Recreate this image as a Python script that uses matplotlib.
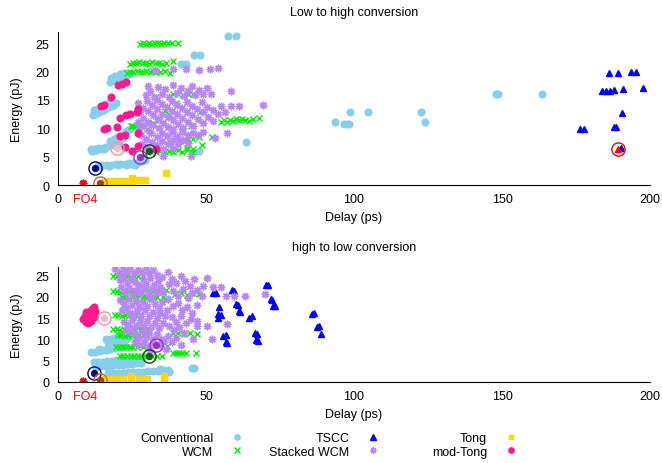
import matplotlib
matplotlib.use("Agg")
import matplotlib.pyplot as plt

plt.rcParams['font.family'] = ['Liberation Sans', 'DejaVu Sans']
plt.rcParams['font.size'] = 9

# ---------------- data: Low to high conversion ----------------
conv_low = [(13.5, 3.4), (15, 3.5), (16.5, 3.5), (18, 3.6), (19.5, 3.7), (21, 3.7), (22.5, 3.8),
            (24, 3.9), (25.5, 3.9), (27, 4.0), (28.5, 4.2), (29.5, 4.4), (26, 3.6), (23, 3.5), (28.5, 4.7),
            (14.2, 3.2), (17.2, 3.4), (20.2, 3.5), (24.6, 3.7), (27.7, 4.4),
            (11, 6.3), (12.3, 6.4), (13.6, 6.5), (15, 6.6), (16.3, 6.8), (17.6, 7.0), (19, 7.1), (20.5, 7.3),
            (11.6, 6.0), (13, 6.2), (14.4, 6.3), (15.7, 6.4), (18.2, 7.3), (19.6, 7.6), (21, 8.0), (22, 8.3),
            (17.5, 7.8), (18.8, 8.1), (20, 8.4), (21.5, 8.7), (22.5, 9.2), (23.5, 9.7), (24.3, 9.9), (23, 9.5),
            (11.8, 12.4), (12.8, 12.6), (13.8, 12.8), (14.8, 13.1), (15.8, 13.4), (16.8, 13.7), (17.8, 14.0),
            (18.8, 14.2), (19.5, 14.4), (12.5, 12.9), (14, 13.4), (12.3, 13.2), (13.3, 13.5), (15.3, 14.0),
            (16.3, 14.3), (17.3, 14.5),
            (17.5, 18.2), (18.5, 18.5), (19.5, 18.8), (20.5, 19.0), (21.5, 19.2), (22.5, 19.4), (23.5, 19.5),
            (24.3, 19.6), (18, 18.9), (19.3, 19.2), (20.8, 19.5), (22.2, 19.8),
            (41.7, 21.3), (43.2, 21.3), (46, 23), (48, 23), (57.3, 26.2), (60, 26.2), (47.8, 6.0), (63.6, 7.6),
            (93.6, 11.2), (96.6, 10.7), (97.6, 10.7), (98.3, 10.7), (98.6, 12.8), (104.7, 12.8), (122.6, 12.8),
            (124, 11.2), (148, 16), (148.6, 16), (163.6, 16)]
tscc_low = [(186.2, 19.7), (189.2, 19.7), (193.6, 20.0), (195.3, 20.0), (197.6, 17.2), (183.8, 16.5),
            (185.2, 16.5), (186.5, 16.5), (187.9, 16.7), (190.9, 16.9), (190.6, 12.7), (176.4, 9.8),
            (177.8, 9.8), (188.0, 10.2), (188.6, 10.2), (190.2, 6.5)]
tong_low = [(16, 0.6), (17.5, 0.7), (19, 0.7), (20.5, 0.7), (22, 0.8), (23.5, 0.8), (24.9, 1.3), (25, 0.7),
            (27.3, 0.9), (28.5, 0.9), (29.5, 0.9), (36.4, 2.1)]
modtong_low = [(20.2, 17.7), (21.5, 17.9), (22.9, 18.1), (17.9, 15.5), (14.5, 13.9), (15.5, 14.2), (21.1, 11.9),
               (22.9, 12.4), (24.2, 12.5), (26.8, 12.9), (26.9, 13.4), (15.4, 9.8), (16.6, 10.0), (19.9, 10.2),
               (21.1, 8.7), (22.5, 8.8), (27.1, 9.1), (22.6, 6.7), (24.9, 6.0), (26.9, 6.9), (33.1, 6.4)]
wcm_low = [(27.8, 24.8), (28.8, 25.0), (29.8, 24.9), (30.8, 25.1), (31.8, 24.9), (32.8, 25.0), (33.8, 25.1),
           (34.8, 24.9), (35.8, 25.0), (37, 25.0), (38.5, 25.0), (40.7, 25.1),
           (24.2, 21.4), (25.3, 21.6), (26.4, 21.5), (27.5, 21.7), (28.6, 21.5), (29.7, 21.6), (30.8, 21.4),
           (31.9, 21.7), (33, 21.5), (34.1, 21.6), (35.2, 21.4), (36.5, 21.6), (38.7, 21.8),
           (23.3, 19.8), (24.4, 20.0), (25.5, 19.9), (26.6, 20.1), (27.7, 19.9), (28.8, 20.0), (29.9, 20.2),
           (31, 19.9), (32.1, 20.1), (33.2, 19.9), (34.5, 20.0), (36, 20.2), (37.7, 19.8),
           (38.7, 16.0), (40.5, 16.1), (42.3, 15.9), (44, 16.0), (45.5, 16.1),
           (55.2, 11.2), (56.2, 11.4), (57.2, 11.2), (58.2, 11.5), (59.2, 11.3), (60.2, 11.6), (61.2, 11.4),
           (62.2, 11.7), (63.3, 11.5), (64.6, 11.3), (66, 11.6), (68, 11.9),
           (24.5, 10.4), (25.5, 10.5), (26.5, 10.4), (27.6, 10.6),
           (38, 7.6), (39.5, 7.8), (41, 7.9), (42.5, 7.7), (44, 8.0), (45.5, 8.1), (47.8, 8.4), (52, 8.4),
           (43.5, 6.6), (45.5, 6.3), (48.5, 7.0),
           (30, 5.9), (31.5, 6.0), (33, 5.8), (34.5, 6.0), (36, 5.9), (37.5, 6.0), (39, 5.8), (40.5, 6.1),
           (42, 5.9), (43.5, 6.2), (45.5, 5.9),
           (30, 9.8), (32, 10.9), (34, 11.4), (36, 13.0), (40, 14.5), (33, 15.5), (37.5, 12.5), (42, 9.5),
           (45, 10.5), (48, 12.8)]
swcm_low = [(29.8, 15.8), (31.2, 16.6), (32.5, 15.6), (33.8, 17.3), (35, 16.0), (36.3, 16.9), (37.5, 15.5),
            (38.8, 17.6), (40.1, 16.3), (41.4, 17.1), (42.6, 15.7), (43.9, 16.6), (45.2, 17.4), (46.4, 15.9),
            (47.7, 16.8), (49, 16.1), (50.3, 17.2), (51.8, 16.0), (58.6, 16.5), (30.5, 17.4),
            (27, 14.5), (27.2, 12.8), (27, 11.2), (27.3, 9.9), (28.6, 13.6), (28.8, 11.9), (29, 10.5),
            (30.1, 14.8), (30.3, 13.0), (30.5, 11.2), (30.6, 9.6), (31.8, 14.1), (32, 12.4), (32.2, 10.6),
            (33.5, 15.0), (33.6, 13.4), (33.8, 11.7), (34, 10.0), (35.2, 14.3), (35.3, 12.6), (35.5, 11.0),
            (36.8, 13.8), (37, 12.0), (37.1, 10.3), (38.5, 14.9), (38.6, 13.1), (38.8, 11.4), (39, 9.8),
            (40.2, 14.2), (40.3, 12.5), (40.5, 10.8), (41.9, 13.6), (42, 11.9), (42.2, 10.1), (43.6, 14.7),
            (43.7, 12.9), (43.9, 11.2), (45.3, 14.0), (45.4, 12.3), (45.6, 10.5), (47, 13.4), (47.2, 11.6),
            (48.7, 14.6), (48.9, 12.8), (49.1, 10.9), (50.5, 13.8), (50.7, 12.0), (52.3, 13.2), (52.5, 11.3),
            (54.2, 12.6), (54.9, 13.9), (58.5, 13.9), (61.3, 13.9), (69.4, 14.2), (56.5, 12.9),
            (28.2, 8.8), (28.5, 7.3), (29.8, 8.2), (30.2, 6.7), (31.5, 9.1), (31.8, 7.6), (32.1, 6.1),
            (33.3, 8.5), (33.5, 7.0), (35, 9.2), (35.2, 7.8), (35.4, 6.3), (35.6, 5.2), (36.8, 8.6), (37, 7.2),
            (38.5, 9.3), (38.7, 7.9), (38.9, 6.5), (40.3, 8.7), (40.5, 7.3), (42, 9.4), (42.3, 8.0),
            (43.8, 8.8), (44, 7.4), (45.6, 9.2), (45.1, 5.1), (47.3, 8.9), (49, 9.4), (52.9, 8.3), (57.2, 9.1),
            (32.7, 20.3), (38.7, 20.4), (43.3, 20.4), (47.8, 20.3), (51.2, 20.4), (54.2, 20.6)]

# ---------------- data: high to low conversion ----------------
conv_high = [(16.2, 10.0), (17.5, 10.2), (18.8, 10.3), (20, 10.5), (21.3, 10.6), (22.6, 10.7), (24, 10.8),
             (17, 9.4), (19, 9.6), (21, 9.8), (23, 10.0),
             (11.1, 7.0), (12.4, 7.1), (13.7, 7.3), (15, 7.4), (16.3, 7.6), (17.6, 7.7), (18.9, 7.9),
             (20.2, 8.1), (21.5, 8.3), (22.6, 8.5), (14, 7.8), (17, 8.2), (19.5, 8.5),
             (12, 4.6), (13.5, 4.7), (15, 4.8), (16.5, 4.9), (18, 5.0), (19.5, 5.1), (21, 5.2), (22.5, 5.3),
             (24, 5.4), (25.5, 5.5), (27, 5.6), (28, 5.5),
             (13, 3.6), (14.5, 3.7), (16, 3.8), (17.5, 3.8), (19, 3.9), (20.5, 4.0), (22, 4.1), (23.5, 4.2),
             (25, 4.3), (26.5, 4.4), (28, 4.5),
             (16.8, 2.1), (18.5, 2.1), (20.2, 2.2), (21.9, 2.2), (23.6, 2.3), (25.3, 2.3), (27, 2.4),
             (28.7, 2.4), (30.4, 2.5), (32.1, 2.5), (33.8, 2.6), (35.5, 2.7), (37, 2.9), (37.5, 2.3),
             (34.5, 3.1), (45.3, 3.2), (46, 3.2)]
tscc_high = [(52.2, 21.0), (53.4, 21.0), (58.9, 21.5), (59.6, 21.4), (54.5, 17.5), (54.2, 16.0), (55.0, 15.8),
             (54.1, 15.0), (60.3, 18.4), (60.8, 18.0), (61.0, 16.6), (61.5, 16.4), (64.5, 15.0), (65.6, 15.5),
             (66.5, 11.6), (67.1, 11.2), (67.0, 9.9), (67.5, 9.7), (55.6, 10.7), (56.8, 11.0), (56.6, 9.3),
             (57.1, 9.1), (70.4, 22.7), (71.0, 22.8), (71.8, 19.6), (72.3, 19.3), (72.8, 17.9), (73.3, 17.8),
             (85.9, 15.9), (86.6, 16.1), (87.4, 12.8), (88.1, 13.1), (88.9, 11.2)]
tong_high = [(16, 0.6), (17.5, 0.8), (19, 0.8), (20.5, 0.8), (22, 0.8), (24.6, 1.3), (24.7, 0.6), (27.5, 0.7),
             (28.8, 0.7), (30, 0.7), (35.7, 1.5), (35.7, 0.9)]
modtong_high = [(8.6, 14.8), (9.0, 15.6), (9.3, 14.2), (9.8, 15.2), (10.2, 16.0), (10.5, 14.6), (10.9, 16.7),
                (11.2, 15.4), (11.5, 17.2), (11.8, 16.1), (12.2, 15.3), (12.5, 16.6), (10.0, 13.9), (11.0, 14.3),
                (12.0, 17.5), (9.5, 16.4)]
wcm_high = [(18.6, 24.8), (19.8, 24.9), (21, 24.7), (22.2, 24.8), (23.4, 24.9), (24.6, 24.7), (25.8, 24.8),
            (27, 24.9), (28.7, 24.8),
            (18.6, 21.3), (19.8, 21.4), (21, 21.2), (22.2, 21.3), (23.4, 21.5), (24.6, 21.3), (25.8, 21.4),
            (27, 21.2), (28.2, 21.4), (29.4, 21.5), (30.6, 21.3), (31.8, 21.4), (33, 21.6), (34.3, 21.7), (36.4, 21.7),
            (21.5, 19.9), (22.7, 20.0), (23.9, 19.8), (25.1, 20.0), (26.3, 19.9), (27.5, 20.1), (28.7, 19.9),
            (29.9, 20.0), (31.1, 19.8), (32.3, 20.0), (33.5, 19.9), (35.4, 19.9), (36, 19.6),
            (39.4, 20.6), (41.5, 20.8), (43.5, 20.5), (45.5, 21.0), (47.8, 20.6),
            (19.2, 15.7), (20.4, 15.8), (21.6, 15.6), (22.8, 15.7), (24, 15.8), (25.2, 15.6), (26.4, 15.7), (27.6, 15.8),
            (18.6, 12.4), (19.8, 12.5), (21, 12.3), (22.2, 12.4), (23.4, 12.5), (24.6, 12.3), (25.8, 12.4),
            (27, 12.6), (28.2, 12.4), (30, 12.5),
            (20.2, 11.0), (21.4, 11.1), (22.6, 10.9), (23.8, 11.0), (25, 11.1), (26.2, 10.9), (27.4, 11.0),
            (28.6, 11.1), (30, 11.0),
            (38.7, 11.4), (40.5, 11.5), (42.5, 11.3), (44.5, 11.6), (46.8, 11.2),
            (19.5, 8.2), (20.7, 8.3), (21.9, 8.1), (23.1, 8.2), (24.3, 8.3), (25.5, 8.1), (26.7, 8.2),
            (28.6, 8.3), (36.7, 8.4),
            (20.9, 6.1), (22.1, 6.2), (23.3, 6.0), (24.5, 6.1), (25.7, 6.2), (26.9, 6.0), (28.1, 6.1),
            (29.3, 6.2), (30.5, 6.0), (31.7, 6.1), (33.3, 6.1), (35, 6.1),
            (38.7, 6.8), (39.8, 6.8), (40.9, 6.7), (42, 6.8), (43.4, 6.8), (46.6, 6.8)]
swcm_high = [(19.2, 26.5), (20.5, 25.6), (21.8, 26.8), (23.1, 25.9), (24.4, 26.6), (25.7, 25.5), (27, 26.3),
             (28.3, 25.8), (29.6, 26.7), (30.9, 25.6), (32.2, 26.2), (33.5, 25.2), (20.8, 23.9), (22.1, 24.5),
             (23.4, 23.2), (24.7, 24.1), (26, 23.5), (27.3, 22.7), (28.6, 24.2), (29.9, 23.1), (31.2, 24.4),
             (32.5, 22.8), (33.8, 23.6), (35.1, 24.6), (21.3, 22.3), (22.6, 21.1), (23.9, 22.0), (25.2, 20.4),
             (26.5, 21.6), (27.8, 20.8), (29.1, 22.1), (30.4, 20.6), (31.7, 21.8), (33, 20.9), (34.3, 22.4),
             (35.6, 21.2), (21, 19.2), (22.3, 18.4), (23.6, 19.6), (24.9, 18.0), (26.2, 19.1), (27.5, 17.6),
             (28.8, 18.8), (30.1, 17.9), (31.4, 19.4), (32.7, 18.2), (34, 17.4), (35.3, 18.9), (21.6, 16.8),
             (22.9, 17.3), (24.2, 16.2), (25.5, 15.2), (26.8, 16.6), (28.1, 15.4), (29.4, 16.9), (30.7, 15.6),
             (32, 16.4), (33.3, 15.1), (34.6, 16.2), (36, 15.4), (22.4, 14.2), (23.7, 13.4), (25, 14.5),
             (26.3, 13.2), (27.6, 14.1), (28.9, 13.0), (30.2, 14.4), (31.5, 12.9), (32.8, 13.8), (34.1, 12.6),
             (35.4, 13.9), (23.1, 11.9), (24.4, 12.7), (25.7, 11.5), (27, 10.4), (28.3, 11.8), (29.6, 10.6),
             (30.9, 11.6), (32.2, 10.2), (33.5, 11.3), (34.8, 10.1), (26, 9.3), (27.5, 8.6), (29, 9.4),
             (30.5, 8.2), (32, 9.1), (31, 7.6), (34.5, 8.7), (35.8, 9.6),
             (37, 25.8), (38.5, 24.3), (40, 23.2), (41.5, 24.9), (43, 23.8), (44.5, 22.6), (46, 24.2),
             (37.4, 22.9), (39, 21.4), (40.6, 20.3), (42.2, 21.9), (43.8, 19.8), (45.4, 20.9), (47, 21.6),
             (48.5, 20.1), (37.2, 19.6), (38.8, 17.8), (40.4, 18.6), (42, 16.9), (43.6, 17.5), (45.2, 16.2),
             (46.8, 18.1), (36.8, 16.8), (38.4, 15.2), (40, 14.0), (41.6, 15.5), (43.2, 13.8), (44.8, 14.8),
             (46.8, 14.3), (37.6, 13.2), (39.2, 12.1), (40.8, 12.9), (42.4, 11.4), (45.5, 10.0), (47.1, 13.1),
             (37, 10.8), (38.5, 9.4), (40, 10.3), (41.5, 8.6), (36.5, 7.8), (49, 22.6),
             (50.5, 24.5), (52.2, 22.4), (55.2, 22.4), (56.9, 20.1), (59.6, 20.1), (63.3, 20.1), (70, 20.6),
             (57.2, 13.6), (51.9, 10.0), (50.5, 13.1)]

# best points (fill colour, ring colour), red = FO4 reference / best TSCC
best_low = [(12.5, 3.0, '#00008b', '#00008b'), (14.1, 0.35, '#a0450f', '#d2691e'),
            (19.8, 6.5, '#ffb6c1', '#ff8f9f'), (27.6, 4.9, '#9932cc', '#9932cc'),
            (30.6, 6.0, '#006400', '#1e3c1e'), (189.2, 6.4, '#ff0000', '#ff0000')]
best_high = [(12.1, 2.1, '#00008b', '#00008b'), (14.1, 0.5, '#a0450f', '#d2691e'),
             (15.5, 15.0, '#ffb6c1', '#ff8f9f'), (33.0, 8.6, '#9932cc', '#9932cc'),
             (30.6, 6.1, '#006400', '#1e3c1e')]
fo4_point = (8.5, 0.3)
fo4_tick = 9.3
xticks = [0, 50, 100, 150, 200]
yticks = [0, 5, 10, 15, 20, 25]

series_style = [
    ('Conventional', 'o', '#87ceeb', 4.8),
    ('WCM', 'x', '#00f000', 5.0),
    ('TSCC', '^', '#0000ff', 5.0),
    ('Stacked WCM', (8, 2, 0), '#b886f7', 5.5),
    ('Tong', 's', '#ffd700', 4.2),
    ('mod-Tong', 'o', '#ff1a8c', 4.8),
]

fig = plt.figure(figsize=(6.62, 4.64), dpi=100)
ax1 = fig.add_axes([0.0876, 0.599, 0.8943, 0.330])
ax2 = fig.add_axes([0.0876, 0.1746, 0.8943, 0.2478])


def draw(ax, data, best, title):
    handles = []
    for (name, mk, col, ms), pts in zip(series_style, data):
        xs = [p[0] for p in pts]
        ys = [p[1] for p in pts]
        h, = ax.plot(xs, ys, linestyle='none', marker=mk, color=col, ms=ms,
                     mew=1.0, label=name, clip_on=True)
        handles.append(h)
    for x, y, fill, ring in best:
        if fill == '#ff0000':
            ax.plot([x], [y], linestyle='none', marker='^', color=fill, ms=5)
        else:
            ax.plot([x], [y], linestyle='none', marker='o', color=fill, ms=4.2)
        ax.plot([x], [y], linestyle='none', marker='o', mfc='none', mec=ring, ms=9.5, mew=1.0)
    ax.plot([fo4_point[0]], [fo4_point[1]], linestyle='none', marker=(8, 2, 0), color='red', ms=5.5, mew=1.2)
    ax.set_xlim(0, 200)
    ax.set_ylim(0, 27)
    ax.set_yticks(yticks)
    ax.set_xticks(xticks + [fo4_tick])
    ax.set_xticklabels([str(t) for t in xticks] + ['FO4'])
    ax.get_xticklabels()[-1].set_color('red')
    ax.tick_params(length=0, pad=6, labelsize=9)
    for s in ('top', 'right'):
        ax.spines[s].set_visible(False)
    ax.set_xlabel('Delay (ps)', labelpad=4)
    ax.set_ylabel('Energy (pJ)', labelpad=9)
    ax.set_title(title, fontsize=9, pad=12)
    return handles


draw(ax1, [conv_low, wcm_low, tscc_low, swcm_low, tong_low, modtong_low], best_low, 'Low to high conversion')
hs = draw(ax2, [conv_high, wcm_high, tscc_high, swcm_high, tong_high, modtong_high], best_high,
          'high to low conversion')

# legend: three right-aligned columns
col_right = [249.5, 385.5, 523.5]
for i, xr in enumerate(col_right):
    fig.legend(handles=hs[2 * i:2 * i + 2], loc='center right', bbox_to_anchor=(xr / 662, 1 - 446 / 464),
               frameon=False, markerfirst=False, handlelength=1.0, handletextpad=1.4,
               borderpad=0, labelspacing=0.1, fontsize=9, markerscale=0.8)

fig.savefig('out.png', dpi=100)
